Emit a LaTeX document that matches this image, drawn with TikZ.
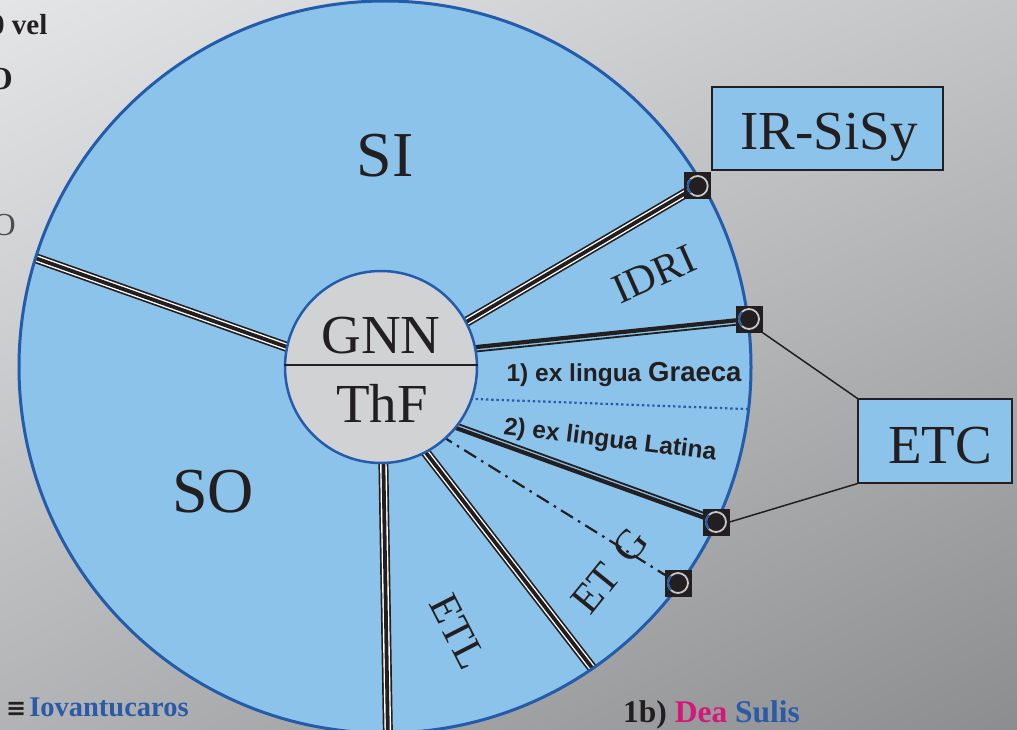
\documentclass[tikz,border=0pt]{standalone}
\usepackage{fontspec}
\setmainfont{Liberation Serif}
\newfontfamily\sansf{Liberation Sans}
\newfontfamily\symf{DejaVu Sans}
\usetikzlibrary{calc,shadings}
\definecolor{bgUL}{RGB}{228,229,231}
\definecolor{bgUR}{RGB}{196,197,199}
\definecolor{bgLL}{RGB}{178,179,181}
\definecolor{bgLR}{RGB}{140,141,143}
\definecolor{skyfill}{RGB}{140,195,234}
\definecolor{rimblue}{RGB}{36,92,172}
\definecolor{hubfill}{RGB}{208,210,212}
\definecolor{ink}{RGB}{35,31,32}
\definecolor{txtblue}{RGB}{43,91,168}
\definecolor{txtmag}{RGB}{214,23,122}
\definecolor{ringgray}{RGB}{200,200,202}
\tikzset{
  triplea/.style={draw=ink,line width=10pt},
  tripleb/.style={draw=white,line width=6.6pt},
  triplec/.style={draw=ink,line width=3.8pt},
  thickray/.style={draw=ink,line width=4.2pt},
  thinray/.style={draw=ink,line width=1.8pt},
  dotray/.style={draw=rimblue,line width=2.2pt,dash pattern=on 2.4pt off 2.8pt},
  dashdotray/.style={draw=ink,line width=2.2pt,dash pattern=on 14pt off 6pt on 2.5pt off 6pt},
  marker/.style={fill=ink,draw=none,minimum size=27pt,inner sep=0pt},
  ring/.style={draw=ringgray,line width=1.8pt},
  labelbox/.style={draw=ink,line width=1.2pt,fill=skyfill,inner sep=0pt},
  bigserif/.style={text=ink,font=\fontsize{64}{64}\selectfont,inner sep=0pt},
  midserif/.style={text=ink,font=\fontsize{55}{55}\selectfont,inner sep=0pt},
  sectserif/.style={text=ink,font=\fontsize{42}{42}\selectfont,inner sep=0pt},
  sanslbl/.style={text=ink,font=\sansf\bfseries\fontsize{24.5}{24.5}\selectfont,inner sep=0pt},
  foot/.style={font=\bfseries\fontsize{29}{29}\selectfont,inner sep=0pt},
  connector/.style={draw=ink,line width=1.5pt}
}
\begin{document}
\begin{tikzpicture}[x=1pt,y=-1pt]
\useasboundingbox (0,0) rectangle (1017,730);
\clip (0,0) rectangle (1017,730);
% background
\shade[upper left=bgUL,upper right=bgUR,lower left=bgLL,lower right=bgLR] (0,0) rectangle (1017,730);

% clipped texts at the left border
\node[foot,text=ink,anchor=base west] (tvel) at (-10,35) {0 vel};
\node[foot,text=ink,anchor=base east,font=\bfseries\fontsize{32}{32}\selectfont] (tO) at (13,90) {O};
\node[text=ink!80,anchor=base east,inner sep=0pt,font=\fontsize{32}{32}\selectfont] (tO2) at (16,235) {O};

% big disc
\coordinate (C) at (385,367);
\fill[skyfill] (C) circle[radius=366pt];

% coordinates for rays
\coordinate (a1) at (300,351.6);   \coordinate (b1) at (15,250.9);
\coordinate (a2) at (455,328.5);   \coordinate (b2) at (697.7,186);
\coordinate (a3) at (465,348.2);   \coordinate (b3) at (749,319);
\coordinate (a4) at (460,398.5);   \coordinate (b4) at (760,409.5);
\coordinate (a5) at (445,424);     \coordinate (b5) at (716,522);
\coordinate (a6) at (440,435);     \coordinate (b6) at (678,583);
\coordinate (a7) at (420,445);     \coordinate (b7) at (610,691);
\coordinate (a8) at (383,440);     \coordinate (b8) at (388,740);

\begin{scope}
\clip (C) circle[radius=366pt];
% triple rays
\foreach \s/\e in {a1/b1,a2/b2,a7/b7,a8/b8}{
  \draw[triplea] (\s) -- (\e);
  \draw[tripleb] (\s) -- (\e);
  \draw[triplec] (\s) -- (\e);
}
% thick + thin rays
\draw[thickray] (a3) -- (b3);
\draw[thinray] ($(a3)+(0.4,4.4)$) -- ($(b3)+(0.4,4.4)$);
\draw[thickray] (a5) -- (b5);
\draw[thinray] ($(a5)+(1.4,-4.2)$) -- ($(b5)+(1.4,-4.2)$);
% dotted and dash-dot rays
\draw[dotray] (a4) -- (b4);
\draw[dashdotray] (a6) -- (b6);
\end{scope}
\draw[rimblue,line width=3pt] (C) circle[radius=366pt];

% hub
\node[circle,draw=rimblue,line width=2.5pt,fill=hubfill,minimum size=192pt,inner sep=0pt] (hub) at (381,367) {};
\draw[ink,line width=1.2pt] (hub.west |- 0,365) -- (hub.east |- 0,365);
\node[midserif,anchor=base] (gnn) at (381,353) {GNN};
\node[midserif,anchor=base] (thf) at (382,422) {ThF};

% sector labels
\node[bigserif,anchor=base] (si) at (385,177) {SI};
\node[bigserif,anchor=base] (so) at (213,512) {SO};
\node[sectserif,rotate=24] (idri) at (654,274) {IDRI};
\node[sanslbl,anchor=base] (graeca) at (624,381) {1) ex lingua {\fontsize{27.5}{27.5}\selectfont Graeca}};
\node[sanslbl,rotate=-7] (latina) at (610,441) {2) ex lingua Latina};
\node[sectserif,rotate=51] (etg) at (610,571) {ET\hspace{4pt} G};
\node[sectserif,rotate=-63] (etl) at (458,632) {ETL};

% markers
\foreach \n/\p in {m1/b2,m2/b3,m3/b5,m4/b6}{
  \node[marker] (\n) at (\p) {};
  \draw[ring] (\n.center) circle[radius=10pt];
  \draw[rimblue,line width=1.8pt] ($(\n.center)+(-7.07,-7.07)$) arc[start angle=135,end angle=225,radius=10pt];
}

% boxes
\node[labelbox,minimum width=231pt,minimum height=83pt] (irs) at (827.5,128.5) {};
\node[midserif,anchor=base] (irst) at (829,150) {IR-SiSy};
\node[labelbox,minimum width=154pt,minimum height=84pt] (etc) at (935,441) {};
\node[midserif,anchor=base] (etct) at (940,463) {ETC};

% connectors
\draw[connector] (m2.south east) -- (etc.north west);
\draw[connector] (m3.east) -- (etc.south west);

% footer texts
\node[foot,anchor=base west,font=\bfseries\fontsize{28.5}{28.5}\selectfont] (iov) at (6,716) {{\symf\bfseries\fontsize{24}{24}\selectfont\textcolor{ink}{≡}}\hspace{3pt}\textcolor{txtblue}{Iovantucaros}};
\node[foot,anchor=base west,font=\bfseries\fontsize{31.5}{31.5}\selectfont] (dea) at (623,722) {\textcolor{ink}{1b)} \textcolor{txtmag}{Dea} \textcolor{txtblue}{Sulis}};
\end{tikzpicture}
\end{document}
